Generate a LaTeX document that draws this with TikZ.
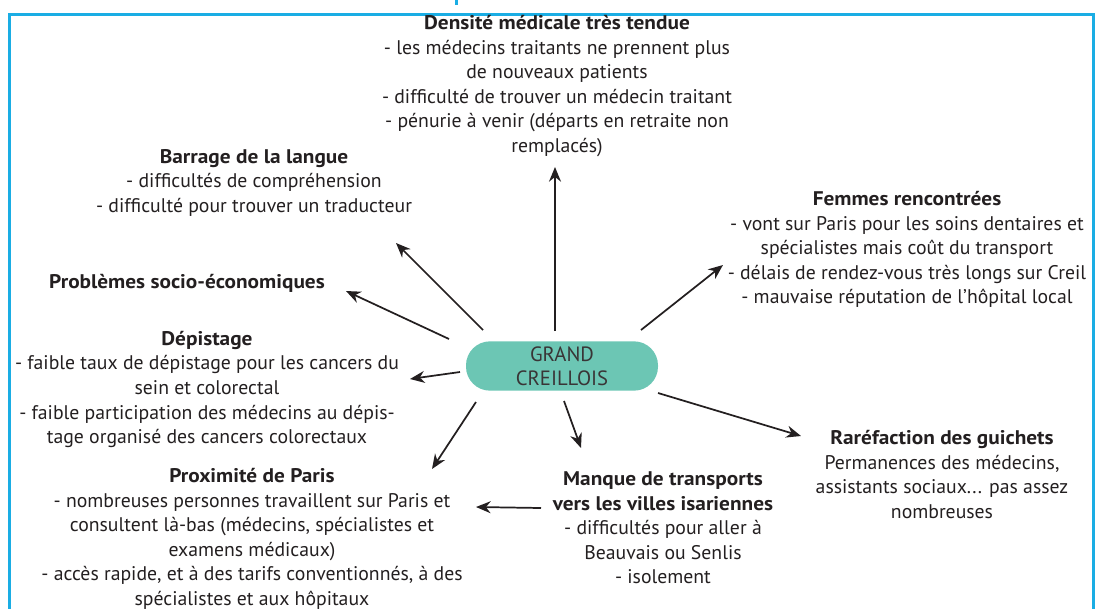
\documentclass[tikz,border=0pt]{standalone}
\usepackage{fontspec}
\setmainfont{PT Sans}[BoldFeatures={FakeStretch=1.08}]
\usetikzlibrary{arrows.meta}
\definecolor{cadre}{HTML}{1AADE4}
\definecolor{vert}{HTML}{6CC6B4}
\definecolor{texte}{HTML}{231F20}

\begin{document}
\begin{tikzpicture}[x=0.75pt,y=-0.75pt,
        bloc/.style={align=center,inner sep=0pt,text=texte,font=\fontsize{14.8}{18.4}\selectfont},
        fleche/.style={-{Stealth[length=11pt,width=9pt]},line width=1.3pt,texte}]
        \useasboundingbox (0,0) rectangle (1097,608);
        \draw[cadre,line width=2.2pt] (9.5,14.5) rectangle (1093.5,640);
        \draw[cadre,line width=1.8pt] (456.5,0) -- (456.5,5);
        % bulle centrale
        \node[fill=vert,rounded corners=18pt,minimum width=144pt,minimum height=37pt,
              align=center,text=texte!90,font=\fontsize{15.5}{18}\selectfont] (grand) at (562,366) {GRAND\\CREILLOIS};
        % les blocs de texte
        \node[bloc] (densite) at (557,86) {\textbf{Densité médicale très tendue}\\- les médecins traitants ne prennent plus\\de nouveaux patients\\- difficulté de trouver un médecin traitant\\- pénurie à venir (départs en retraite non\\remplacés)};
        \node[bloc] (langue) at (254,182.5) {\textbf{Barrage de la langue}\\- difficultés de compréhension\\- difficulté pour trouver un traducteur};
        \node[bloc] (socio) at (187,283) {\textbf{Problèmes socio-économiques}};
        \node[bloc] (depistage) at (207,389.5) {\textbf{Dépistage}\\- faible taux de dépistage pour les cancers du\\sein et colorectal\\- faible participation des médecins au dépis-\\tage organisé des cancers colorectaux};
        \node[bloc] (paris) at (252,539) {\textbf{Proximité de Paris}\\- nombreuses personnes travaillent sur Paris et\\consultent là-bas (médecins, spécialistes et\\examens médicaux)\\- accès rapide, et à des tarifs conventionnés, à des\\spécialistes et aux hôpitaux};
        \node[bloc] (transports) at (663,528) {\textbf{Manque de transports}\\\textbf{vers les villes isariennes}\\- difficultés pour aller à\\Beauvais ou Senlis\\- isolement};
        \node[bloc] (guichets) at (942,474.5) {\textbf{Raréfaction des guichets}\\Permanences des médecins,\\assistants sociaux... pas assez\\nombreuses};
        \node[bloc] (femmes) at (907,249.5) {\textbf{Femmes rencontrées}\\- vont sur Paris pour les soins dentaires et\\spécialistes mais coût du transport\\- délais de rendez-vous très longs sur Creil\\- mauvaise réputation de l'hôpital local};
        % les fleches
        \foreach \nom/\dep/\arr in {h/{(555,331)}/{(555,167)}, hg/{(483,330)}/{(396,243)},
                g1/{(449,339)}/{(346,291)}, g2/{(460,372)}/{(410,379)},
                bg/{(476,402)}/{(432,469)}, b/{(564,401)}/{(581,448)},
                hd/{(641,330)}/{(723,265)}, d/{(658,393)}/{(801,436)},
                mp/{(541,508)}/{(476,507)}} {
            \path \dep coordinate (\nom-a) \arr coordinate (\nom-b);
            \draw[fleche] (\nom-a) -- (\nom-b);
        }
\end{tikzpicture}
\end{document}
